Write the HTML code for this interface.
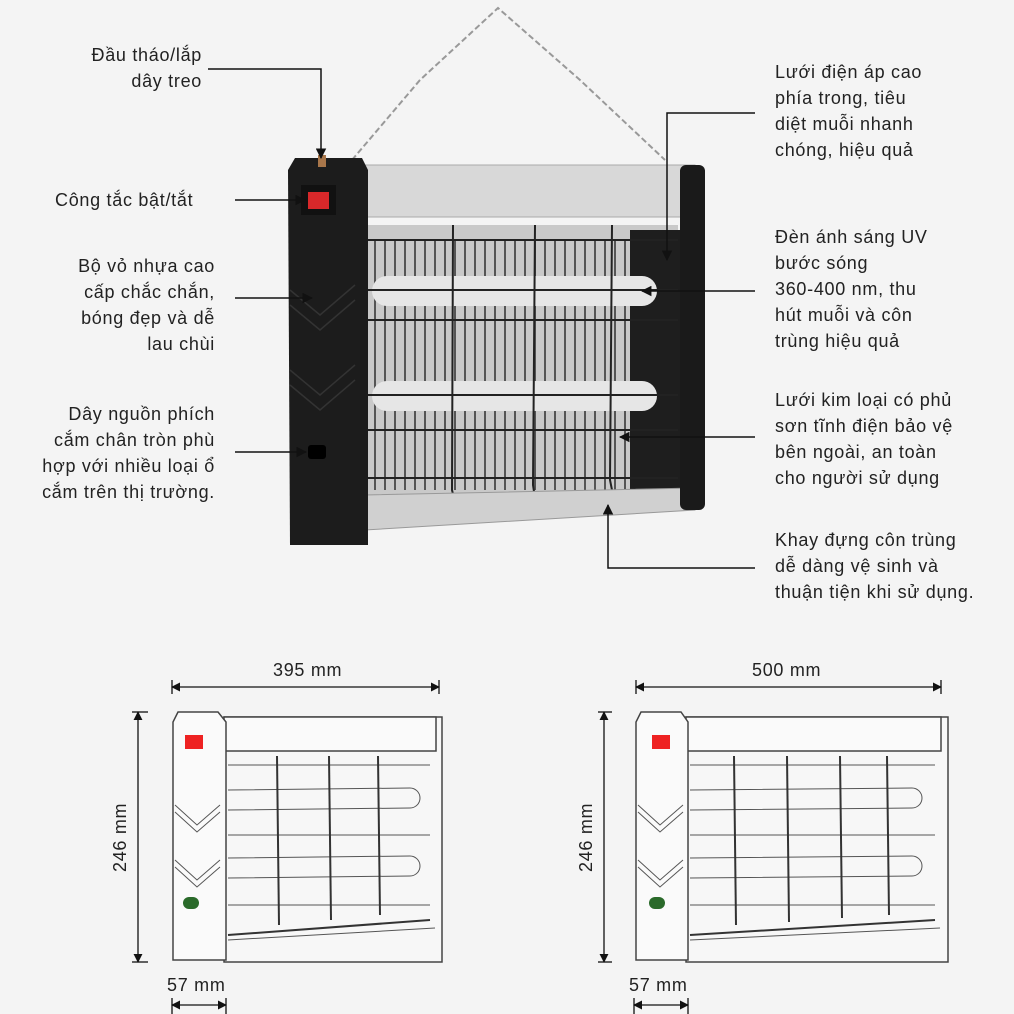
<!DOCTYPE html>
<html><head><meta charset="utf-8"><style>
html,body{margin:0;padding:0;background:#f4f4f4}
body{width:1014px;height:1014px;position:relative;overflow:hidden;font-family:"Liberation Sans",sans-serif;color:#222}
.t{position:absolute;font-size:18px;line-height:26px;white-space:nowrap;letter-spacing:0.7px}
.r{text-align:right}
svg{position:absolute;left:0;top:0}
</style></head><body>
<svg width="1014" height="1014" viewBox="0 0 1014 1014">
<defs>
<marker id="a" viewBox="0 0 10 10" refX="9" refY="5" markerWidth="7" markerHeight="7" orient="auto-start-reverse"><path d="M0,0L10,5L0,10z" fill="#111"/></marker>
</defs>
<polyline points="352,160 420,80 498,8 580,80 665,160" fill="none" stroke="#999" stroke-width="2" stroke-dasharray="6,3"/>
<rect x="365" y="165" width="330" height="52" fill="#d8d8d8" stroke="#aaa"/>
<rect x="368" y="225" width="310" height="270" fill="#c9c9c9"/>
<g stroke="#555" stroke-width="2">
<line x1="375" y1="240" x2="375" y2="490"/><line x1="385" y1="240" x2="385" y2="490"/><line x1="395" y1="240" x2="395" y2="490"/><line x1="405" y1="240" x2="405" y2="490"/><line x1="415" y1="240" x2="415" y2="490"/><line x1="425" y1="240" x2="425" y2="490"/><line x1="435" y1="240" x2="435" y2="490"/><line x1="445" y1="240" x2="445" y2="490"/><line x1="455" y1="240" x2="455" y2="490"/><line x1="465" y1="240" x2="465" y2="490"/><line x1="475" y1="240" x2="475" y2="490"/><line x1="485" y1="240" x2="485" y2="490"/><line x1="495" y1="240" x2="495" y2="490"/><line x1="505" y1="240" x2="505" y2="490"/><line x1="515" y1="240" x2="515" y2="490"/><line x1="525" y1="240" x2="525" y2="490"/><line x1="535" y1="240" x2="535" y2="490"/><line x1="545" y1="240" x2="545" y2="490"/><line x1="555" y1="240" x2="555" y2="490"/><line x1="565" y1="240" x2="565" y2="490"/><line x1="575" y1="240" x2="575" y2="490"/><line x1="585" y1="240" x2="585" y2="490"/><line x1="595" y1="240" x2="595" y2="490"/><line x1="605" y1="240" x2="605" y2="490"/><line x1="615" y1="240" x2="615" y2="490"/><line x1="625" y1="240" x2="625" y2="490"/>
</g>
<rect x="630" y="230" width="55" height="280" fill="#1e1e1e"/>
<rect x="372" y="276" width="285" height="30" rx="15" fill="#e6e6e6"/>
<rect x="372" y="381" width="285" height="30" rx="15" fill="#e6e6e6"/>
<g stroke="#222" stroke-width="2" fill="none">
<line x1="368" y1="240" x2="678" y2="240"/><line x1="368" y1="290" x2="678" y2="290"/><line x1="368" y1="320" x2="678" y2="320"/><line x1="368" y1="395" x2="678" y2="395"/><line x1="368" y1="430" x2="678" y2="430"/><line x1="368" y1="478" x2="678" y2="478"/>
<path d="M453,225 L452,490 L455,502"/><path d="M535,225 L533,485 L535,498"/><path d="M612,225 L610,480 L612,490"/>
</g>
<path d="M365,495 L695,488 L695,510 L365,530z" fill="#d0d0d0" stroke="#999"/>
<rect x="680" y="165" width="25" height="345" rx="6" fill="#1a1a1a"/>
<path d="M295,158 L362,158 L368,170 L368,545 L290,545 L288,170z" fill="#1c1c1c"/>
<rect x="301" y="185" width="35" height="30" fill="#111"/>
<rect x="308" y="192" width="21" height="17" fill="#d8282a"/>
<rect x="318" y="155" width="8" height="12" fill="#a8764a"/>
<rect x="308" y="445" width="18" height="14" rx="3" fill="#000"/>
<g stroke="#333" stroke-width="1.5" fill="none"><path d="M290,290 L320,315 L355,285"/><path d="M290,305 L320,330 L355,300"/><path d="M290,370 L320,395 L355,365"/><path d="M290,385 L320,410 L355,380"/></g>
<g stroke="#111" stroke-width="1.5" fill="none">
<polyline points="208,69 321,69 321,158" marker-end="url(#a)"/>
<line x1="235" y1="200" x2="305" y2="200" marker-end="url(#a)"/>
<line x1="235" y1="298" x2="312" y2="298" marker-end="url(#a)"/>
<line x1="235" y1="452" x2="306" y2="452" marker-end="url(#a)"/>
<polyline points="755,113 667,113 667,260" marker-end="url(#a)"/>
<line x1="755" y1="291" x2="642" y2="291" marker-end="url(#a)"/>
<line x1="755" y1="437" x2="620" y2="437" marker-end="url(#a)"/>
<polyline points="755,568 608,568 608,505" marker-end="url(#a)"/>
</g>
<g stroke="#111" stroke-width="1.3" fill="none">
<line x1="172" y1="687" x2="439" y2="687" marker-start="url(#a)" marker-end="url(#a)"/>
<line x1="172" y1="680" x2="172" y2="694"/><line x1="439" y1="680" x2="439" y2="694"/>
<line x1="138" y1="712" x2="138" y2="962" marker-start="url(#a)" marker-end="url(#a)"/>
<line x1="132" y1="712" x2="148" y2="712"/><line x1="132" y1="962" x2="148" y2="962"/>
<line x1="172" y1="1005" x2="226" y2="1005" marker-start="url(#a)" marker-end="url(#a)"/>
<line x1="172" y1="998" x2="172" y2="1014"/><line x1="226" y1="998" x2="226" y2="1014"/>
</g>
<g stroke="#444" stroke-width="1.5" fill="#fafafa">
<rect x="224" y="717" width="218" height="245" fill="#f7f7f7"/>
<rect x="224" y="717" width="212" height="34"/>
<path d="M178,712 L218,712 L226,722 L226,960 L173,960 L173,722z"/>
</g>
<rect x="185" y="735" width="18" height="14" fill="#e22"/>
<rect x="183" y="897" width="16" height="12" rx="6" fill="#2a6a2a"/>
<g stroke="#555" stroke-width="1" fill="none">
<path d="M175,805 L197,825 L220,805"/><path d="M175,812 L197,832 L220,812"/><path d="M175,860 L197,880 L220,860"/><path d="M175,867 L197,887 L220,867"/>
<path d="M228,790 L410,788 A10,10 0 0 1 410,808 L228,810"/><path d="M228,858 L410,856 A10,10 0 0 1 410,876 L228,878"/>
<line x1="228" y1="765" x2="430" y2="765"/><line x1="228" y1="835" x2="430" y2="835"/><line x1="228" y1="905" x2="430" y2="905"/><line x1="228" y1="940" x2="435" y2="928"/>
</g>
<g stroke="#333" stroke-width="2" fill="none"><line x1="277" y1="756" x2="279" y2="925"/><line x1="329" y1="756" x2="331" y2="920"/><line x1="378" y1="756" x2="380" y2="915"/><line x1="228" y1="935" x2="430" y2="920"/></g>
<g stroke="#111" stroke-width="1.3" fill="none">
<line x1="636" y1="687" x2="941" y2="687" marker-start="url(#a)" marker-end="url(#a)"/>
<line x1="636" y1="680" x2="636" y2="694"/><line x1="941" y1="680" x2="941" y2="694"/>
<line x1="604" y1="712" x2="604" y2="962" marker-start="url(#a)" marker-end="url(#a)"/>
<line x1="598" y1="712" x2="612" y2="712"/><line x1="598" y1="962" x2="612" y2="962"/>
<line x1="634" y1="1005" x2="688" y2="1005" marker-start="url(#a)" marker-end="url(#a)"/>
<line x1="634" y1="998" x2="634" y2="1014"/><line x1="688" y1="998" x2="688" y2="1014"/>
</g>
<g stroke="#444" stroke-width="1.5" fill="#fafafa">
<rect x="686" y="717" width="262" height="245" fill="#f7f7f7"/>
<rect x="686" y="717" width="255" height="34"/>
<path d="M641,712 L681,712 L688,722 L688,960 L636,960 L636,722z"/>
</g>
<rect x="652" y="735" width="18" height="14" fill="#e22"/>
<rect x="649" y="897" width="16" height="12" rx="6" fill="#2a6a2a"/>
<g stroke="#555" stroke-width="1" fill="none">
<path d="M638,805 L660,825 L683,805"/><path d="M638,812 L660,832 L683,812"/><path d="M638,860 L660,880 L683,860"/><path d="M638,867 L660,887 L683,867"/>
<path d="M690,790 L912,788 A10,10 0 0 1 912,808 L690,810"/><path d="M690,858 L912,856 A10,10 0 0 1 912,876 L690,878"/>
<line x1="690" y1="765" x2="935" y2="765"/><line x1="690" y1="835" x2="935" y2="835"/><line x1="690" y1="905" x2="935" y2="905"/><line x1="690" y1="940" x2="940" y2="928"/>
</g>
<g stroke="#333" stroke-width="2" fill="none"><line x1="734" y1="756" x2="736" y2="925"/><line x1="787" y1="756" x2="789" y2="922"/><line x1="840" y1="756" x2="842" y2="918"/><line x1="887" y1="756" x2="889" y2="915"/><line x1="690" y1="935" x2="935" y2="920"/></g>
</svg>
<div class="t r" style="right:812px;top:42px">Đầu tháo/lắp<br>dây treo</div>
<div class="t" style="left:55px;top:187px">Công tắc bật/tắt</div>
<div class="t r" style="right:799px;top:253px">Bộ vỏ nhựa cao<br>cấp chắc chắn,<br>bóng đẹp và dễ<br>lau chùi</div>
<div class="t r" style="right:799px;top:401px">Dây nguồn phích<br>cắm chân tròn phù<br>hợp với nhiều loại ổ<br>cắm trên thị trường.</div>
<div class="t" style="left:775px;top:59px">Lưới điện áp cao<br>phía trong, tiêu<br>diệt muỗi nhanh<br>chóng, hiệu quả</div>
<div class="t" style="left:775px;top:224px">Đèn ánh sáng UV<br>bước sóng<br>360-400 nm, thu<br>hút muỗi và côn<br>trùng hiệu quả</div>
<div class="t" style="left:775px;top:387px">Lưới kim loại có phủ<br>sơn tĩnh điện bảo vệ<br>bên ngoài, an toàn<br>cho người sử dụng</div>
<div class="t" style="left:775px;top:527px">Khay đựng côn trùng<br>dễ dàng vệ sinh và<br>thuận tiện khi sử dụng.</div>
<div class="t" style="left:273px;top:657px">395 mm</div>
<div class="t" style="left:752px;top:657px">500 mm</div>
<div class="t" style="left:167px;top:972px">57 mm</div>
<div class="t" style="left:629px;top:972px">57 mm</div>
<div class="t" style="left:85px;top:824px;transform:rotate(-90deg);transform-origin:35px 13px;width:70px">246 mm</div>
<div class="t" style="left:551px;top:824px;transform:rotate(-90deg);transform-origin:35px 13px;width:70px">246 mm</div>
</body></html>
